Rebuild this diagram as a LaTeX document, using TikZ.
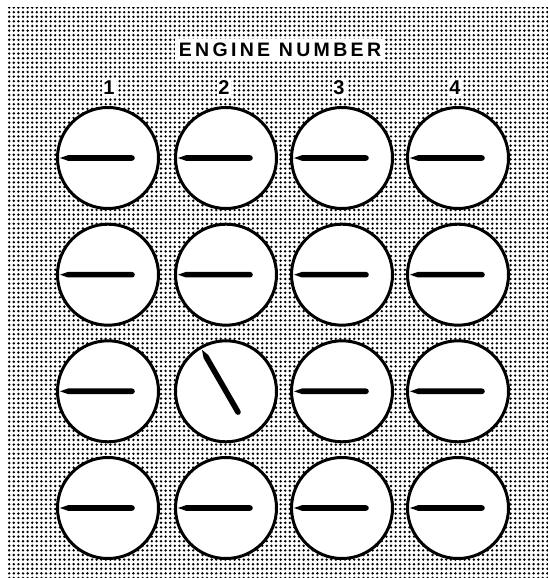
\documentclass[tikz,border=0pt]{standalone}
\usepackage{fontspec}
\setmainfont{Liberation Sans}
\newfontfamily\spacedfont[LetterSpace=17]{Liberation Sans}
\usetikzlibrary{patterns, positioning}

% dotted screen of the panel
\pgfdeclarepatternformonly{stipple}{\pgfqpoint{-2.3pt}{-2.3pt}}{\pgfqpoint{2.3pt}{2.3pt}}{\pgfqpoint{4.6pt}{4.6pt}}{%
	\pgfpathcircle{\pgfpointorigin}{1.35pt}\pgfusepath{fill}}

\tikzstyle{dial} = [circle, 
minimum size=101pt, 
inner sep=0pt, 
line width=3pt, 
draw=black, 
fill=white]
\tikzstyle{tag} = [fill=white, inner sep=1.5pt, font=\bfseries\fontsize{20}{20}\selectfont]

\begin{document}
\begin{tikzpicture}[x=1pt, y=1pt]
		
		% Canvas, white margin at top and left
		\useasboundingbox (0,0) rectangle (548,578);
		\fill[pattern=stipple] (8,0) rectangle (548,570);
		
		\node[tag, inner xsep=4pt, inner ysep=4pt, font=\spacedfont\bfseries\fontsize{19.5}{20}\selectfont] (title) at (280,528) {ENGINE NUMBER};
		
		\foreach \c/\x in {1/109, 2/224, 3/339, 4/455}
			\node[tag] (n\c) at (\x,490) {\c};
		
		% Dials, row by row
		\foreach \r/\y in {1/420, 2/303.3, 3/186.7, 4/70}
			\foreach \c/\x in {1/108, 2/226, 3/342, 4/458}
				\node[dial] (g\r\c) at (\x,\y) {};
		
		% Needles (angle = direction of the tip)
		\foreach \g/\a in {g11/180, g12/180, g13/180, g14/180,
			g21/180, g22/180, g23/180, g24/180,
			g31/180, g32/120, g33/180, g34/180,
			g41/180, g42/180, g43/180, g44/180}
			\fill[shift={(\g.center)}, rotate=\a] (-24,2.8) -- (40,2.8) -- (48,0) -- (40,-2.8) -- (-24,-2.8) arc[start angle=270, end angle=90, radius=2.8] -- cycle;
		
	\end{tikzpicture}
\end{document}
